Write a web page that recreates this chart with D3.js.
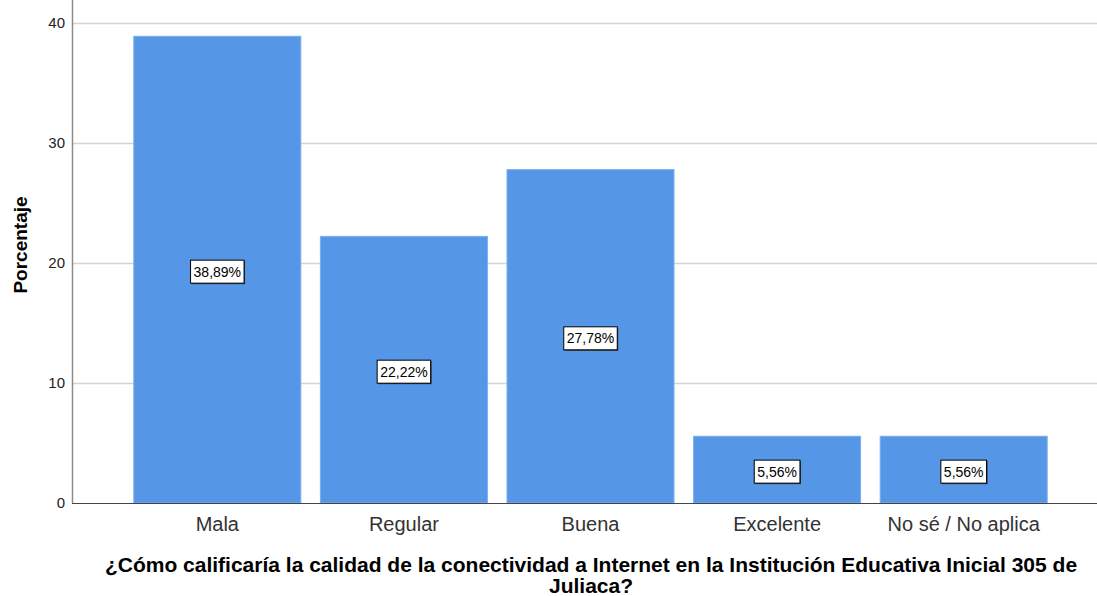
<!DOCTYPE html>
<html>
<head>
<meta charset="utf-8">
<script src="https://cdn.jsdelivr.net/npm/d3@7"></script>
<style>
  html, body { margin: 0; padding: 0; background: #ffffff; }
  svg { display: block; }
</style>
</head>
<body>
<svg id="chart" width="1097" height="596"></svg>
<script>
// Chart data
const categories = ["Mala", "Regular", "Buena", "Excelente", "No sé / No aplica"];
const percentages = [38.89, 22.22, 27.78, 5.56, 5.56];
const yTicks = [0, 10, 20, 30, 40];
const yLabel = "Porcentaje";
const xTitleLines = [
  "¿Cómo calificaría la calidad de la conectividad a Internet en la Institución Educativa Inicial 305 de",
  "Juliaca?"
];

const FONT = "Arial, 'Liberation Sans', sans-serif";
const svg = d3.select("#chart");
const plot = { left: 72, right: 1097, top: 0, bottom: 503 };

const x = d3.scaleBand()
  .domain(categories)
  .range([124, 1057])
  .paddingInner(0.105)
  .paddingOuter(0.0525);

const y = d3.scaleLinear()
  .domain([0, 40])
  .range([503, 23]);

// Horizontal gridlines
svg.append("g")
  .selectAll("line")
  .data(yTicks.filter(d => d > 0))
  .join("line")
  .attr("x1", plot.left)
  .attr("x2", plot.right)
  .attr("y1", d => Math.round(y(d)) + 0.5)
  .attr("y2", d => Math.round(y(d)) + 0.5)
  .attr("stroke", "#d4d4d4")
  .attr("stroke-width", 1.5);

// Bars
const fmt = v => v.toFixed(2).replace(".", ",") + "%";
const data = categories.map((c, i) => ({ c, v: percentages[i] }));

svg.append("g")
  .selectAll("rect")
  .data(data)
  .join("rect")
  .attr("x", d => x(d.c))
  .attr("y", d => y(d.v))
  .attr("width", x.bandwidth())
  .attr("height", d => y(0) - y(d.v))
  .attr("fill", "#5596e6")
  .attr("stroke", "#7aaef0")
  .attr("stroke-width", 1);

// Y axis
const yAxis = d3.axisLeft(y).tickValues(yTicks).tickSize(0).tickPadding(7);
const gy = svg.append("g")
  .attr("transform", `translate(${plot.left},0)`)
  .call(yAxis);
gy.select(".domain").attr("stroke", "#8c8c8c").attr("stroke-width", 1.5)
  .attr("d", `M0.5,0V${plot.bottom}`);
gy.selectAll("text")
  .attr("font-family", FONT)
  .attr("font-size", 15)
  .attr("fill", "#222");

// X axis
const xAxis = d3.axisBottom(x).tickSize(0).tickPadding(14);
const gx = svg.append("g")
  .attr("transform", `translate(0,${plot.bottom})`)
  .call(xAxis);
gx.select(".domain").attr("stroke", "#444").attr("stroke-width", 1.2)
  .attr("d", `M${plot.left},0.5H${plot.right}`);
gx.selectAll("text")
  .attr("font-family", FONT)
  .attr("font-size", 20)
  .attr("fill", "#333");

// Value labels in boxes at mid-height of each bar
const labels = svg.append("g")
  .selectAll("g")
  .data(data)
  .join("g")
  .attr("transform", d => `translate(${x(d.c) + x.bandwidth() / 2},${y(d.v / 2) + 2})`);

labels.each(function(d) {
  const g = d3.select(this);
  const t = g.append("text")
    .attr("text-anchor", "middle")
    .attr("dy", "0.36em")
    .attr("font-family", FONT)
    .attr("font-size", 14)
    .attr("fill", "#000")
    .text(fmt(d.v));
  const bb = t.node().getBBox();
  const padX = 3, w = bb.width + 2 * padX, h = 23;
  g.insert("rect", "text")
    .attr("x", -w / 2 + 1)
    .attr("y", -h / 2 + 1)
    .attr("width", w)
    .attr("height", h)
    .attr("fill", "#3a3a3a");
  g.insert("rect", "text")
    .attr("x", -w / 2)
    .attr("y", -h / 2)
    .attr("width", w)
    .attr("height", h)
    .attr("fill", "#ffffff")
    .attr("stroke", "#000")
    .attr("stroke-width", 1);
});

// Y axis title
svg.append("text")
  .attr("transform", `translate(27,245) rotate(-90)`)
  .attr("text-anchor", "middle")
  .attr("font-family", FONT)
  .attr("font-size", 19)
  .attr("font-weight", "bold")
  .attr("fill", "#000")
  .text(yLabel);

// X axis title (two lines)
svg.append("g")
  .selectAll("text")
  .data(xTitleLines)
  .join("text")
  .attr("x", 591)
  .attr("y", (d, i) => 572 + i * 21)
  .attr("text-anchor", "middle")
  .attr("font-family", FONT)
  .attr("font-size", 21)
  .attr("font-weight", "bold")
  .attr("fill", "#000")
  .text(d => d);
</script>
</body>
</html>
